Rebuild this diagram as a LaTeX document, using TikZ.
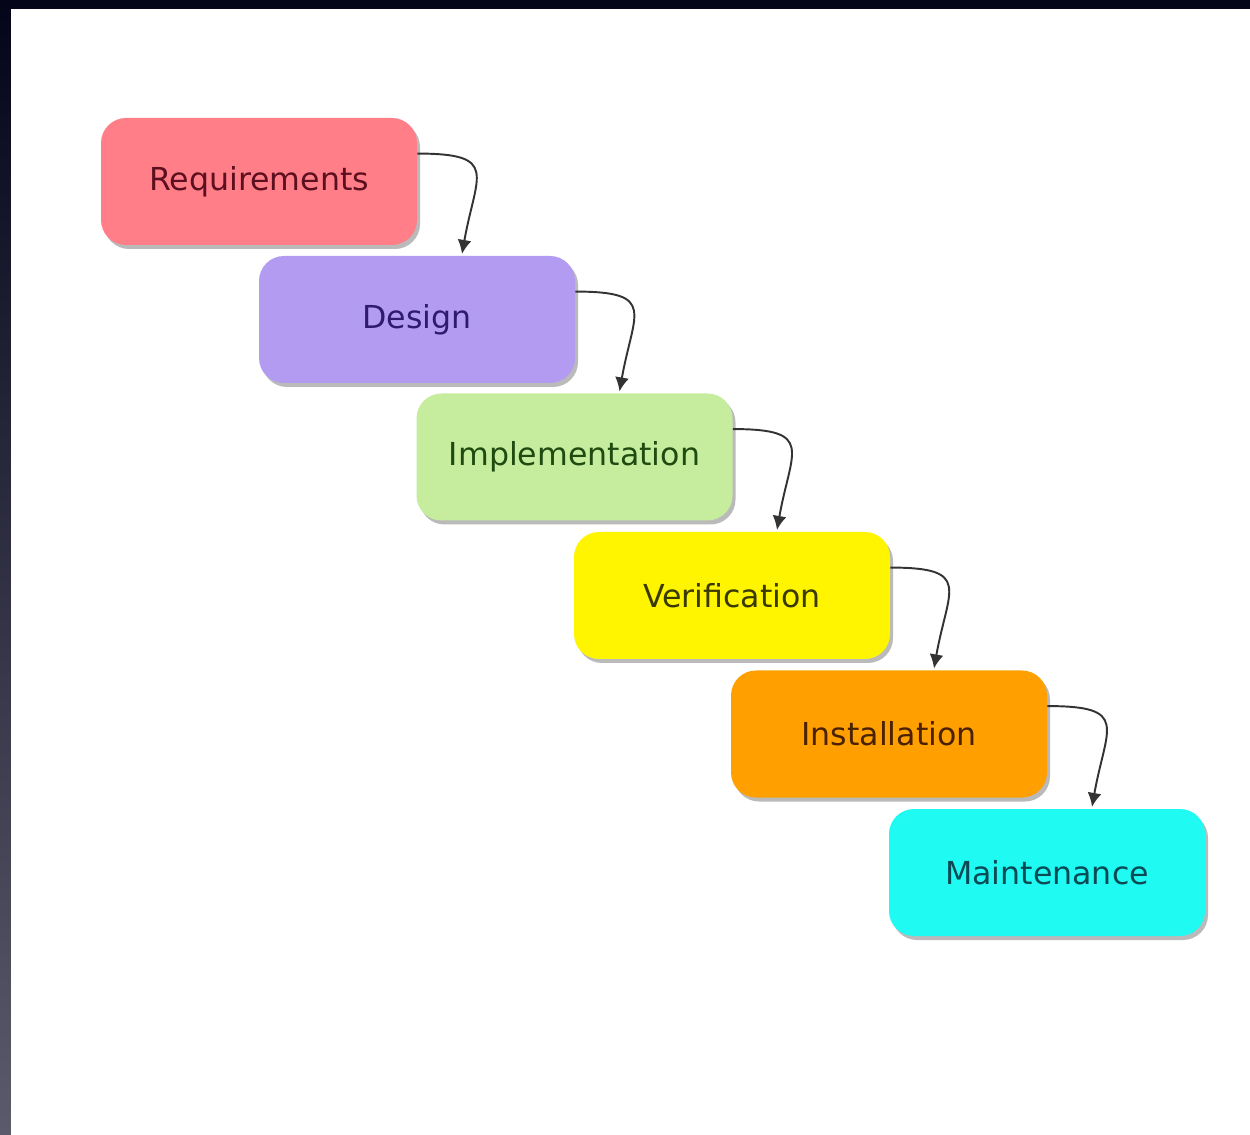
\documentclass[tikz,border=0pt]{standalone}
\usepackage{fontspec}
\setmainfont{DejaVu Sans}
\usetikzlibrary{positioning,shadows,arrows.meta}

\definecolor{reqfill}{HTML}{FF7E88}
\definecolor{reqtext}{HTML}{5C0F1E}
\definecolor{desfill}{HTML}{B49BF2}
\definecolor{destext}{HTML}{2E1A6E}
\definecolor{impfill}{HTML}{C6EC9E}
\definecolor{imptext}{HTML}{1F4A10}
\definecolor{verfill}{HTML}{FFF500}
\definecolor{vertext}{HTML}{3A3A00}
\definecolor{insfill}{HTML}{FFA000}
\definecolor{instext}{HTML}{4A2200}
\definecolor{maifill}{HTML}{1FFAF2}
\definecolor{maitext}{HTML}{0A4A55}
\definecolor{frametop}{HTML}{05051A}
\definecolor{framebot}{HTML}{5A5A6A}

\begin{document}
\begin{tikzpicture}[phase/.style={rounded corners=0.5cm,minimum width=6.32cm,minimum height=2.54cm,
  font=\fontsize{18}{20}\selectfont,
  drop shadow={shadow xshift=0.06cm,shadow yshift=-0.08cm,opacity=0.45,fill=black!60}}]
\useasboundingbox (0,0) rectangle (25,22.68);
\shade[top color=frametop,bottom color=framebot] (0,0) rectangle (25,22.68);
\fill[white] (0.22,-0.2) rectangle (25.2,22.5);

\node[phase,fill=reqfill,text=reqtext] (v1) at (5.18,19.05) {Requirements};
\node[phase,fill=desfill,text=destext] (v2) at (8.34,16.29) {Design};
\node[phase,fill=impfill,text=imptext] (v3) at (11.49,13.54) {Implementation};
\node[phase,fill=verfill,text=vertext] (v4) at (14.64,10.77) {Verification};
\node[phase,fill=insfill,text=instext] (v5) at (17.78,8.0) {Installation};
\node[phase,fill=maifill,text=maitext] (v6) at (20.94,5.23) {Maintenance};

\draw[->,>={Latex[length=0.28cm,width=0.28cm]},line width=1.1pt,black!80,shorten >=1pt] (v1.10) to[out=0,in=80,looseness=1.9] (v2.55);
\draw[->,>={Latex[length=0.28cm,width=0.28cm]},line width=1.1pt,black!80,shorten >=1pt] (v2.10) to[out=0,in=80,looseness=1.9] (v3.55);
\draw[->,>={Latex[length=0.28cm,width=0.28cm]},line width=1.1pt,black!80,shorten >=1pt] (v3.10) to[out=0,in=80,looseness=1.9] (v4.55);
\draw[->,>={Latex[length=0.28cm,width=0.28cm]},line width=1.1pt,black!80,shorten >=1pt] (v4.10) to[out=0,in=80,looseness=1.9] (v5.55);
\draw[->,>={Latex[length=0.28cm,width=0.28cm]},line width=1.1pt,black!80,shorten >=1pt] (v5.10) to[out=0,in=80,looseness=1.9] (v6.55);

\end{tikzpicture}
\end{document}
